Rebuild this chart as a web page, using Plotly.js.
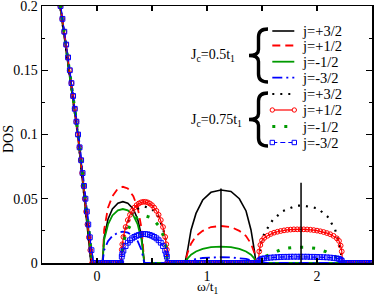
<!DOCTYPE html>
<html>
<head>
<meta charset="utf-8">
<script src="https://cdn.plot.ly/plotly-3.0.1.min.js"></script>
<style>html,body{margin:0;padding:0;background:#fff;}#chart{width:374px;height:295px;}</style>
</head>
<body>
<div id="chart"></div>
<script>
// ---------- data ----------
const steepYShort = [0.21, 0.2, 0.15, 0.1, 0.05, 0.02, 0];
const steepYFull = [0.21,0.2,0.19,0.18,0.17,0.16,0.15,0.14,0.13,0.12,0.11,0.1,0.09,0.08,0.07,0.06,0.05,0.04,0.03,0.02,0.01,0];

// Jc = 0.5 t1
const steepX_05_p32 = [-0.352,-0.336,-0.25,-0.176,-0.115,-0.079,-0.055];
const steepX_05_p12 = [-0.35,-0.334,-0.248,-0.173,-0.111,-0.074,-0.048];
const steepX_05_m12 = [-0.349,-0.333,-0.247,-0.171,-0.109,-0.071,-0.044];
const steepX_05_m32 = [-0.347,-0.331,-0.245,-0.168,-0.104,-0.064,-0.035];

const band1X_05 = [0.05,0.065,0.1,0.14,0.19,0.235,0.28,0.33,0.37,0.405,0.43];
const band1_05_p32 = [0,0.02,0.034,0.042,0.0465,0.0477,0.0465,0.042,0.034,0.021,0];
const band1_05_p12 = [0,0.026,0.043,0.052,0.058,0.0593,0.058,0.052,0.043,0.027,0];
const band1_05_m12 = [0,0.018,0.03,0.037,0.041,0.042,0.041,0.037,0.03,0.018,0];
const band1_05_m32 = [0,0.01,0.017,0.021,0.0236,0.0244,0.0236,0.021,0.017,0.01,0];

const band2X_05 = [0.8,0.824,0.855,0.9,0.961,1.036,1.127,1.218,1.294,1.355,1.4,1.43,1.445];
const band2_05_p32 = [0,0.0101,0.0257,0.0386,0.049,0.055,0.0568,0.0557,0.05,0.0405,0.0257,0.0101,0];
const band2_05_p12 = [0,0.008,0.015,0.021,0.025,0.028,0.0288,0.028,0.025,0.021,0.015,0.008,0];
const band2_05_m12 = [0,0.0035,0.0065,0.009,0.011,0.0123,0.0128,0.0124,0.011,0.009,0.0065,0.0035,0];
const band2_05_m32 = [0,0.0012,0.0022,0.0032,0.0039,0.0043,0.0045,0.0043,0.0039,0.0032,0.0022,0.0012,0];

// Jc = 0.75 t1
const steepX_075_p32 = [-0.351,-0.335,-0.249,-0.174,-0.113,-0.076,-0.051];
const steepX_075_m12 = [-0.348,-0.332,-0.246,-0.17,-0.107,-0.068,-0.04];
const steepX_075_p12 = [-0.349,-0.334,-0.316,-0.298,-0.281,-0.264,-0.248,-0.233,-0.218,-0.203,-0.188,-0.174,-0.16,-0.147,-0.135,-0.123,-0.111,-0.099,-0.087,-0.074,-0.061,-0.045];
const steepX_075_m32 = [-0.345,-0.331,-0.314,-0.297,-0.28,-0.263,-0.247,-0.232,-0.217,-0.202,-0.187,-0.172,-0.158,-0.144,-0.131,-0.118,-0.105,-0.092,-0.079,-0.065,-0.05,-0.03];

const band1X_075 = [0.22,0.235,0.26,0.3,0.36,0.43,0.5,0.56,0.6,0.625,0.64];
const band1_075_p32 = [0,0.018,0.027,0.036,0.042,0.044,0.042,0.036,0.027,0.018,0];
const band1_075_m12 = [0,0.014,0.022,0.029,0.035,0.037,0.035,0.029,0.022,0.014,0];

const band2X_075_p32 = [1.467,1.491,1.521,1.597,1.688,1.809,1.87,2.006,2.097,2.164,2.203,2.233];
const band2_075_p32 = [0,0.0153,0.0231,0.0334,0.0404,0.0446,0.0448,0.0425,0.036,0.0262,0.0148,0];
const band2X_075_m12 = [1.467,1.5,1.6,1.7,1.8,1.9,1.99,2.08,2.17,2.2,2.233];
const band2_075_m12 = [0,0.004,0.0075,0.0114,0.0122,0.0122,0.0114,0.0088,0.0049,0.003,0];

// densely sampled series (with markers)
const band1XDense = [0.22,0.225,0.23,0.24,0.26,0.28,0.30,0.32,0.34,0.36,0.38,0.40,0.42,0.44,0.46,0.48,0.50,0.52,0.54,0.56,0.58,0.60,0.62,0.63,0.635,0.64];
const band1_075_p12 = [0,0.0104,0.0146,0.0203,0.028,0.0334,0.0375,0.0406,0.0431,0.045,0.0463,0.0472,0.0476,0.0476,0.0472,0.0463,0.045,0.0431,0.0406,0.0375,0.0334,0.028,0.0203,0.0146,0.0104,0];
const band1_075_m32 = [0,0.0049,0.0069,0.0096,0.0132,0.0158,0.0177,0.0192,0.0203,0.0212,0.0218,0.0223,0.0225,0.0225,0.0223,0.0218,0.0212,0.0203,0.0192,0.0177,0.0158,0.0132,0.0096,0.0069,0.0049,0];
const band2XDense = [1.467,1.475,1.485,1.5,1.52,1.55,1.58,1.61,1.64,1.67,1.70,1.73,1.76,1.79,1.82,1.85,1.88,1.91,1.94,1.97,2.0,2.03,2.06,2.09,2.12,2.15,2.18,2.2,2.215,2.225,2.233];
const band2_075_p12 = [0,0.009,0.014,0.0175,0.0195,0.0212,0.0226,0.0236,0.0243,0.0249,0.0254,0.0258,0.026,0.0262,0.0262,0.0262,0.0262,0.0261,0.0259,0.0256,0.0252,0.0247,0.0241,0.0233,0.0224,0.0211,0.0192,0.0172,0.0135,0.009,0];
const band2_075_m32 = [0,0.0017,0.0026,0.0033,0.0036,0.004,0.0042,0.0044,0.0045,0.0047,0.0048,0.0048,0.0049,0.0049,0.0049,0.0049,0.0049,0.0049,0.0048,0.0048,0.0047,0.0046,0.0045,0.0044,0.0042,0.0039,0.0036,0.0032,0.0025,0.0017,0];

// gap samples (DOS = 0)
const gapAX = [-0.01,0.01,0.03,0.05,0.07,0.09,0.11,0.13,0.15,0.17,0.19,0.21];
const gapAY = [0,0,0,0,0,0,0,0,0,0,0,0];
const gapBX = [0.66,0.68,0.70,0.72,0.74,0.76,0.78,0.80,0.82,0.84,0.86,0.88,0.90,0.92,0.94,0.96,0.98,1.00,1.02,1.04,1.06,1.08,1.10,1.12,1.14,1.16,1.18,1.20,1.22,1.24,1.26,1.28,1.30,1.32,1.34,1.36,1.38,1.40,1.42,1.44,1.46];
const gapBY = [0,0,0,0,0,0,0,0,0,0,0,0,0,0,0,0,0,0,0,0,0,0,0,0,0,0,0,0,0,0,0,0,0,0,0,0,0,0,0,0,0];
const gapCX = [2.25,2.27,2.29,2.31,2.33,2.35,2.37,2.39,2.41,2.43,2.45,2.47,2.49,2.5];
const gapCY = [0,0,0,0,0,0,0,0,0,0,0,0,0,0];
const endX = [2.5];
const endY = [0];

// vertical marker lines
const vlineX = [1.127, 1.855];
const vlineTop = [0.058, 0.0625];

// tick labels and texts
const xTickVals = [0, 1, 2];
const xTickText = ['0', '1', '2'];
const yTickVals = [0, 0.05, 0.1, 0.15, 0.2];
const yTickText = ['0', '0.05', '0.1', '0.15', '0.2'];
const legendLabels = ['j=+3/2', 'j=+1/2', 'j=-1/2', 'j=-3/2'];
const groupLabels = ['J<sub>c</sub>=0.5t<sub>1</sub>', 'J<sub>c</sub>=0.75t<sub>1</sub>'];
const xTitle = 'ω/t<sub>1</sub>';
const yTitle = 'DOS';

// ---------- styles ----------
const FONT = 'Liberation Serif';
const BLACK = '#000000', RED = '#ff0000', GREEN = '#009a00', BLUE = '#0000ff';
const styles = [
  {color: BLACK, dash: 'solid', width: 1.6},
  {color: RED, dash: '8px,5px', width: 1.8},
  {color: GREEN, dash: 'solid', width: 1.8},
  {color: BLUE, dash: '10px,4px,2px,4px', width: 1.8},
  {color: BLACK, dash: '2px,6px', width: 2.2},
  {color: RED, dash: 'solid', width: 1.2, symbol: 'circle-open'},
  {color: GREEN, dash: '3px,9px', width: 3},
  {color: BLUE, dash: '5px,3px', width: 1.2, symbol: 'square-open'}
];

function line(x, y, st) {
  const t = {x: x, y: y, type: 'scatter', mode: st.symbol ? 'lines+markers' : 'lines',
    line: {color: st.color, dash: st.dash, width: st.width, shape: 'linear'},
    hoverinfo: 'skip', showlegend: false};
  if (st.symbol) t.marker = {symbol: st.symbol, size: 4.8, color: st.color, line: {color: st.color, width: 1}};
  return t;
}

const traces = [
  line(steepX_05_p32.concat(band1X_05, band2X_05, endX), steepYShort.concat(band1_05_p32, band2_05_p32, endY), styles[0]),
  line(steepX_05_p12.concat(band1X_05, band2X_05, endX), steepYShort.concat(band1_05_p12, band2_05_p12, endY), styles[1]),
  line(steepX_05_m12.concat(band1X_05, band2X_05, endX), steepYShort.concat(band1_05_m12, band2_05_m12, endY), styles[2]),
  line(steepX_05_m32.concat(band1X_05, band2X_05, endX), steepYShort.concat(band1_05_m32, band2_05_m32, endY), styles[3]),
  line(steepX_075_p32.concat(band1X_075, band2X_075_p32, endX), steepYShort.concat(band1_075_p32, band2_075_p32, endY), styles[4]),
  line(steepX_075_p12.concat(gapAX, band1XDense, gapBX, band2XDense, gapCX), steepYFull.concat(gapAY, band1_075_p12, gapBY, band2_075_p12, gapCY), styles[5]),
  line(steepX_075_m12.concat(band1X_075, band2X_075_m12, endX), steepYShort.concat(band1_075_m12, band2_075_m12, endY), styles[6]),
  line(steepX_075_m32.concat(gapAX, band1XDense, gapBX, band2XDense, gapCX), steepYFull.concat(gapAY, band1_075_m32, gapBY, band2_075_m32, gapCY), styles[7])
];
vlineX.forEach(function (vx, i) {
  traces.push({x: [vx, vx], y: [0, vlineTop[i]], type: 'scatter', mode: 'lines',
    line: {color: BLACK, width: 1.5}, hoverinfo: 'skip', showlegend: false});
});

// ---------- legend (drawn with shapes and annotations) ----------
const PL = 42, PR = 372, PT = 6, PB = 263;
function pxX(p) { return (p - PL) / (PR - PL); }
function pxY(p) { return (PB - p) / (PB - PT); }

const shapes = [], annotations = [];
const legY = [31, 45.5, 61.7, 77.7, 94, 110, 126.5, 142.5];
const sampleX0 = 272.3, sampleX1 = 294.3, textX = 300;
styles.forEach(function (st, i) {
  shapes.push({type: 'line', xref: 'paper', yref: 'paper', x0: pxX(sampleX0), x1: pxX(sampleX1),
    y0: pxY(legY[i]), y1: pxY(legY[i]), line: {color: st.color, width: st.width, dash: st.dash}});
  if (st.symbol) {
    [sampleX0, sampleX1].forEach(function (sx) {
      shapes.push({type: st.symbol === 'circle-open' ? 'circle' : 'rect', xref: 'paper', yref: 'paper',
        xsizemode: 'pixel', ysizemode: 'pixel', xanchor: pxX(sx), yanchor: pxY(legY[i]),
        x0: -2.2, x1: 2.2, y0: -2.2, y1: 2.2, fillcolor: '#ffffff', line: {color: st.color, width: 1}});
    });
  }
  annotations.push({xref: 'paper', yref: 'paper', x: pxX(textX), y: pxY(legY[i]), xanchor: 'left', yanchor: 'middle',
    text: legendLabels[i % 4], showarrow: false, font: {family: FONT, size: 14.5, color: BLACK}});
});
function bracePath(xr, xm, xt, y0, y1) {
  const ym = (y0 + y1) / 2;
  const P = function (x, y) { return pxX(x).toFixed(5) + ',' + pxY(y).toFixed(5); };
  return 'M' + P(xr, y0) + ' Q' + P(xm, y0) + ' ' + P(xm, y0 + 8) + ' L' + P(xm, ym - 6) +
    ' Q' + P(xm, ym) + ' ' + P(xt, ym) + ' Q' + P(xm, ym) + ' ' + P(xm, ym + 6) +
    ' L' + P(xm, y1 - 8) + ' Q' + P(xm, y1) + ' ' + P(xr, y1);
}
shapes.push({type: 'path', xref: 'paper', yref: 'paper', path: bracePath(268, 258.5, 249, 29, 82), line: {color: BLACK, width: 3.4}});
shapes.push({type: 'path', xref: 'paper', yref: 'paper', path: bracePath(268, 258.5, 249, 93, 146), line: {color: BLACK, width: 3.4}});
annotations.push({xref: 'paper', yref: 'paper', x: pxX(189), y: pxY(56), xanchor: 'left', yanchor: 'middle',
  text: groupLabels[0], showarrow: false, font: {family: FONT, size: 14, color: BLACK}});
annotations.push({xref: 'paper', yref: 'paper', x: pxX(189), y: pxY(120), xanchor: 'left', yanchor: 'middle',
  text: groupLabels[1], showarrow: false, font: {family: FONT, size: 14, color: BLACK}});
// axis titles
annotations.push({xref: 'paper', yref: 'paper', x: pxX(207), y: pxY(277), xanchor: 'center', yanchor: 'top',
  text: xTitle, showarrow: false, font: {family: FONT, size: 13.5, color: BLACK}});
annotations.push({xref: 'paper', yref: 'paper', x: pxX(9), y: pxY(139), xanchor: 'center', yanchor: 'middle',
  text: yTitle, textangle: -90, showarrow: false, font: {family: FONT, size: 14, color: BLACK}});

const layout = {
  width: 374, height: 295,
  margin: {l: PL, r: 374 - PR, t: PT, b: 295 - PB},
  paper_bgcolor: '#ffffff', plot_bgcolor: '#ffffff',
  font: {family: FONT, size: 14, color: BLACK},
  showlegend: false,
  xaxis: {range: [-0.5, 2.5], tickmode: 'array', tickvals: xTickVals, ticktext: xTickText,
    ticks: 'inside', ticklen: 5, tickwidth: 1.2, tickcolor: BLACK,
    minor: {dtick: 0.5, tick0: 0, ticks: 'inside', ticklen: 5, tickwidth: 1.2, tickcolor: BLACK, showgrid: false},
    mirror: 'ticks', showline: true, linecolor: BLACK, linewidth: 1.5, showgrid: false, zeroline: false,
    tickfont: {family: FONT, size: 14, color: BLACK}},
  yaxis: {range: [0, 0.2], tickmode: 'array', tickvals: yTickVals, ticktext: yTickText,
    ticks: 'inside', ticklen: 6, tickwidth: 1.2, tickcolor: BLACK, ticklabeloverflow: 'allow',
    minor: {dtick: 0.025, tick0: 0, ticks: 'inside', ticklen: 3, tickwidth: 1.2, tickcolor: BLACK, showgrid: false},
    mirror: 'ticks', showline: true, linecolor: BLACK, linewidth: 1.5, showgrid: false, zeroline: false,
    tickfont: {family: FONT, size: 14, color: BLACK}},
  shapes: shapes,
  annotations: annotations
};

Plotly.newPlot('chart', traces, layout, {staticPlot: true, displayModeBar: false});
</script>
</body>
</html>
